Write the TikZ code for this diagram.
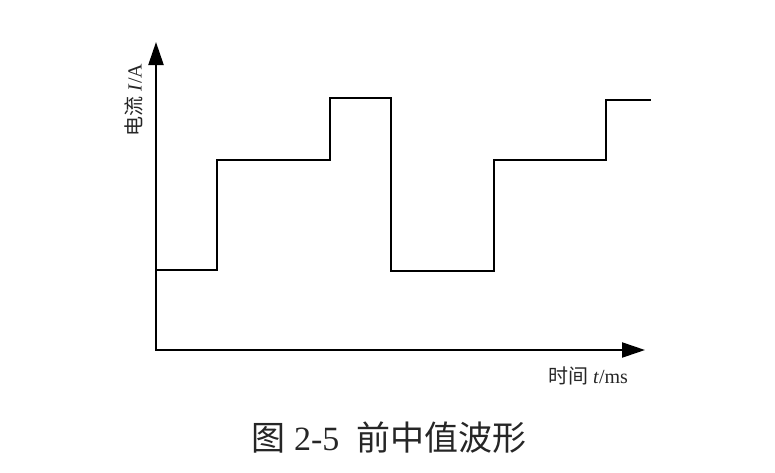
\documentclass[tikz,border=0pt]{standalone}
\usepackage{fontspec}
\setmainfont{Liberation Serif}
\newfontfamily\cjk{Noto Sans CJK SC}
\usetikzlibrary{arrows.meta}
\begin{document}
\begin{tikzpicture}[x=1pt,y=-1pt]

  \tikzstyle{axis}=[line width=2.2pt,{Triangle[length=23pt,width=15pt]}-{Triangle[length=23pt,width=15pt]}]
  \tikzstyle{wave}=[line width=2.4pt,line join=miter]
  \tikzstyle{lbl}=[font=\fontsize{20}{24}\selectfont,inner sep=0pt,text=black!85]
  \tikzstyle{caption}=[font=\fontsize{34}{40}\selectfont,inner sep=0pt,text=black!85]

  \useasboundingbox (0,0) rectangle (775,472);

  % axes
  \coordinate (o) at (156,350);
  \coordinate (ytop) at (156,42);
  \coordinate (xend) at (645,350);
  \draw [axis] (ytop) -- (o) -- (xend);

  % corners of the waveform
  \foreach \n/\x/\y in {0/156/270, 1/217/270, 2/217/160, 3/330/160,
                        4/330/98, 5/391/98, 6/391/271, 7/494/271,
                        8/494/160, 9/606/160, 10/606/100, 11/651/100}
    \coordinate (w\n) at (\x,\y);

  \draw [wave] (w0) \foreach \n in {1,...,11} { -- (w\n) };

  \node (ylbl) [lbl,rotate=90] at (134,100) {{\cjk 电流} \textit{I}/A};
  \node (xlbl) [lbl] at (588,376) {{\cjk 时间} \textit{t}/ms};

  \node (cap) [caption] at (389,438) {{\cjk 图} 2-5\enspace{\cjk 前中值波形}};

\end{tikzpicture}
\end{document}
